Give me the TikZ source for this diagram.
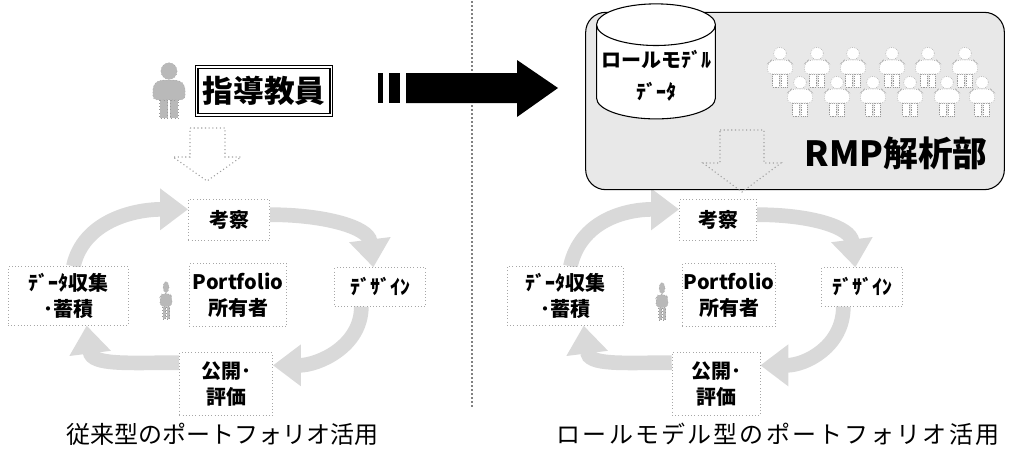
\documentclass[tikz,border=0pt]{standalone}
\usepackage{fontspec}
\setmainfont{Noto Sans CJK JP}
\usetikzlibrary{positioning,shapes.geometric,arrows.meta}
\pgfdeclarelayer{background}
\pgfsetlayers{background,main}

% a small stick figure, origin at the top of the head
\tikzset{
  person/.pic={
    \path[pic actions] (-7,27) rectangle (-1,40);
    \path[pic actions] (1,27) rectangle (7,40);
    \path[pic actions,rounded corners=3] (-12,27) -- (-12,17) -- (-8,13) -- (8,13) -- (12,17) -- (12,27) -- cycle;
    \path[pic actions] (0,6.5) circle[radius=6];
  }
}

\begin{document}
\begin{tikzpicture}[x=0.75pt,y=-0.75pt,
  stage/.style={draw=gray!70,dotted,fill=white,align=center,inner sep=0pt,
    font=\bfseries\fontsize{15}{19}\selectfont},
  cyc/.style={line width=11pt,gray!30,-{Triangle[width=30pt,length=21pt]}},
  hollow/.style={draw=gray!75,dotted,line width=0.8pt},
  crowd/.style={draw=gray!80,densely dotted,fill=white,xscale=1.05,yscale=1.0},
  capt/.style={font=\fontsize{18}{20}\selectfont}
]
\useasboundingbox (0,0) rectangle (1012,450);

% separator
\draw[line width=1.4pt,dash pattern=on 0pt off 3pt,line cap=round] (472,2) -- (472,408);

% ---- left: conventional use
\pic[fill=gray!55,draw=gray!80,dotted,xscale=1.35,yscale=1.4] at (169,62) {person};
\node[draw,line width=1.1pt,double=white,double distance=1pt,inner sep=1pt,
  minimum width=101pt,minimum height=36pt,font=\bfseries\fontsize{23}{25}\selectfont]
  (teacher) at (264,91) {指導教員};
\draw[hollow,fill=white] (190,128) -- (225,128) -- (225,157) -- (241,157) -- (207,181)
  -- (173,157) -- (190,157) -- cycle;

% the cycle
\node[stage,minimum width=61pt,minimum height=31pt] (kouL) at (229,220) {考察};
\node[stage,minimum width=68pt,minimum height=29pt] (dsgL) at (380,287) {ﾃﾞｻﾞｲﾝ};
\node[stage,minimum width=90pt,minimum height=44pt] (datL) at (68,296) {ﾃﾞｰﾀ収集\\･蓄積};
\node[stage,minimum width=70pt,minimum height=47pt] (pubL) at (226,384) {公開･\\評価};
\node[stage,minimum width=73pt,minimum height=47pt] (ownL) at (238,295) {Portfolio\\所有者};
\pic[fill=gray!55,draw=gray!80,dotted,xscale=0.5,yscale=0.95] at (166,281) {person};

\node[capt] (captL) at (222,434) {従来型のポートフォリオ活用};

% ---- big arrow
\fill (378,73) rectangle (383,103);
\fill (389,73) rectangle (400,103);
\fill (406,73) -- (517,73) -- (517,60) -- (558,88) -- (517,117) -- (517,103) -- (406,103) -- cycle;

% ---- right: role model use
\node[draw,line width=0.8pt,fill=gray!18,rounded corners=15pt,minimum width=314pt,minimum height=133pt]
  (rmp) at (795,101) {};
\node[cylinder,shape border rotate=90,aspect=0.35,draw,line width=0.8pt,fill=white,
  minimum width=76pt,minimum height=81pt,align=center,
  font=\bfseries\fontsize{15}{24}\selectfont] (rmdata) at (656,76) {ロールモﾃﾞﾙ\\ﾃﾞｰﾀ};
\foreach \x in {780,817,853,892,928,965}
  \pic[crowd] at (\x,47) {person};
\foreach \x in {800,837,873,910,947,982}
  \pic[crowd] at (\x,76) {person};
\node[font=\bfseries\fontsize{26}{28}\selectfont] (rmplabel) at (896,153) {RMP解析部};
\draw[hollow] (720,130) -- (764,130) -- (764,163) -- (781,163) -- (742,192)
  -- (703,163) -- (720,163) -- cycle;

\node[stage,minimum width=58pt,minimum height=31pt] (kouR) at (718,220) {考察};
\node[stage,minimum width=61pt,minimum height=29pt] (dsgR) at (862,287) {ﾃﾞｻﾞｲﾝ};
\node[stage,minimum width=87pt,minimum height=44pt] (datR) at (565,296) {ﾃﾞｰﾀ収集\\･蓄積};
\node[stage,minimum width=66pt,minimum height=47pt] (pubR) at (716,384) {公開･\\評価};
\node[stage,minimum width=70pt,minimum height=47pt] (ownR) at (729,295) {Portfolio\\所有者};
\pic[fill=gray!55,draw=gray!80,dotted,xscale=0.5,yscale=0.95] at (662,282) {person};

\node[capt] (captR) at (778,434) {\addfontfeature{LetterSpace=9}ロールモデル型のポートフォリオ活用};

% cycle arrows, under the boxes
\begin{pgfonlayer}{background}
\foreach \s in {L,R} {
  \draw[cyc] ([xshift=4pt]dat\s.north) .. controls +(10,-45) and +(-55,0) .. ([yshift=8pt]kou\s.west);
  \draw[cyc] ([yshift=4pt]kou\s.east) .. controls +(55,0) and +(-5,-40) .. ([xshift=-5pt]dsg\s.north);
  \draw[cyc] ([xshift=-14pt]dsg\s.south) .. controls +(0,40) and +(45,0) .. ([yshift=14pt]pub\s.east);
  \draw[cyc] ([yshift=16pt]pub\s.west) .. controls +(-50,0) and +(5,40) .. ([xshift=14pt]dat\s.south);
}
\end{pgfonlayer}
\end{tikzpicture}
\end{document}
